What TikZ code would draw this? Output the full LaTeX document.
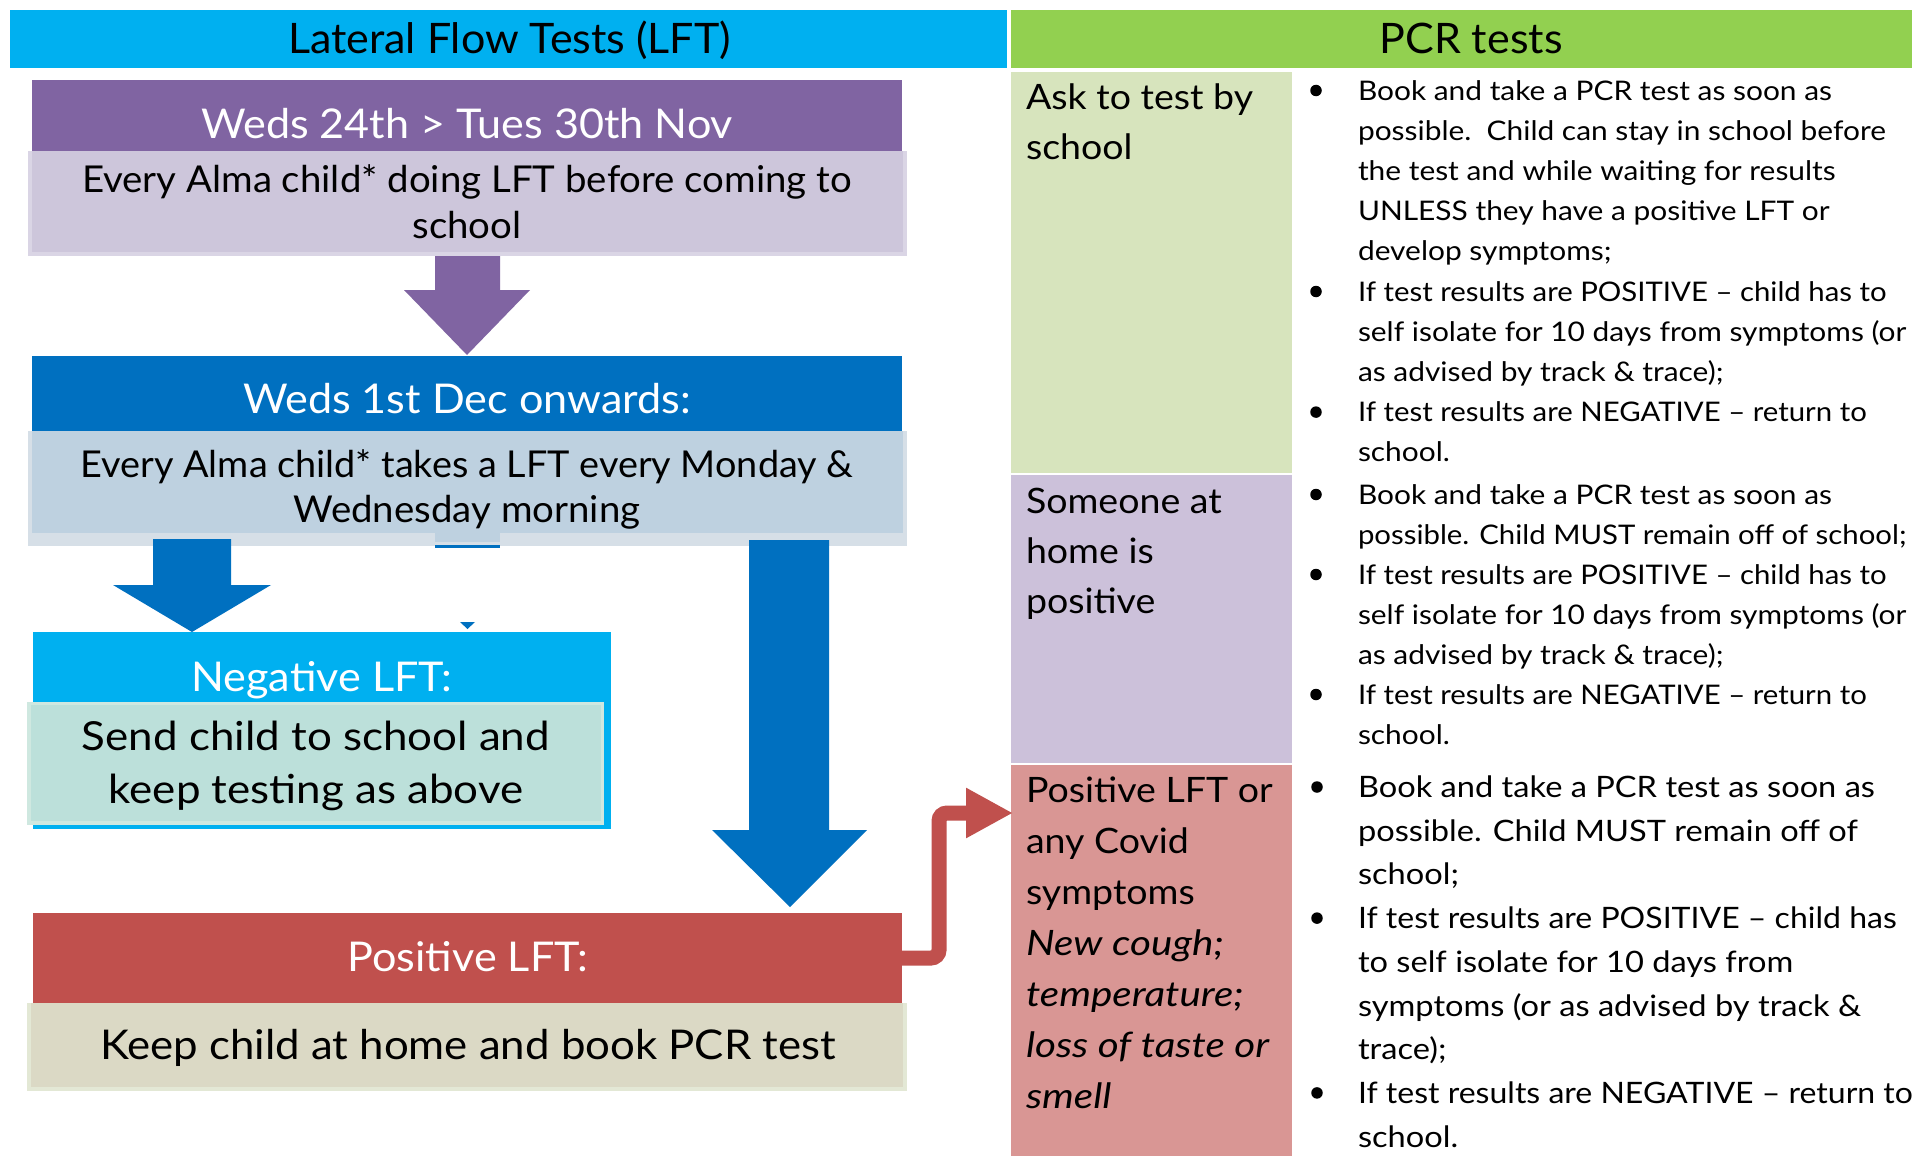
\documentclass[tikz,border=0pt]{standalone}
\usepackage{fontspec}
\setmainfont{Lato}
\usepackage{graphicx}
\usetikzlibrary{arrows.meta}
\definecolor{cCyan}{HTML}{00B0F0}
\definecolor{cGreen}{HTML}{92D050}
\definecolor{cPurple}{HTML}{8064A2}
\definecolor{cLav}{HTML}{CDC6DB}
\definecolor{cLavL}{HTML}{DAD5E5}
\definecolor{cBlue}{HTML}{0070C0}
\definecolor{cLBlue}{HTML}{BED1E0}
\definecolor{cLBlueL}{HTML}{D6DFE7}
\definecolor{cTeal}{HTML}{BCE0DA}
\definecolor{cTealL}{HTML}{CFE8E0}
\definecolor{cRed}{HTML}{C0504D}
\definecolor{cBeige}{HTML}{DBD9C5}
\definecolor{cBeigeL}{HTML}{E3E8D5}
\definecolor{cLGreen}{HTML}{D7E4BD}
\definecolor{cLLav}{HTML}{CCC1DA}
\definecolor{cPink}{HTML}{D99694}
\newlength\mtw
\newcommand\fitf[4]{\setbox0=\hbox{\normalfont\fontsize{#2}{#2}\selectfont #4}\mtw=\wd0\relax
  \pgfmathsetmacro\tmpk{#3/\mtw}\global\let#1\tmpk}
\newcommand\SX[2]{\scalebox{#1}[1]{#2}}
\newcommand\DS[1]{\scalebox{0.982}[1]{#1}}
\AtBeginDocument{%
\fitf{\kH}{42}{443}{Lateral Flow Tests (LFT)}%
\fitf{\kT}{41}{532}{Weds 24th > Tues 30th Nov}%
\fitf{\kB}{37}{770}{Every Alma child* doing LFT before coming to}%
\fitf{\kBb}{37}{773}{Every Alma child* takes a LFT every Monday \&}%
\fitf{\kN}{40}{468}{Send child to school and}%
\fitf{\kK}{41}{736}{Keep child at home and book PCR test}%
\fitf{\kL}{35}{227}{Ask to test by}%
\fitf{\kI}{35}{243}{\itshape loss of taste or}%
\fitf{\kP}{27}{474}{Book and take a PCR test as soon as}%
\fitf{\kQ}{29.5}{517}{Book and take a PCR test as soon as}%
}
\tikzset{
  boxn/.style={rectangle, inner sep=0pt, outer sep=0pt, anchor=north west, draw=none},
  txc/.style={inner sep=0pt, outer sep=0pt, anchor=base},
  txl/.style={inner sep=0pt, outer sep=0pt, anchor=base west},
  bdot/.style={circle, fill=black, inner sep=0pt, minimum size=11.5pt},
  fH/.style={font=\fontsize{42}{42}\selectfont},
  fT/.style={font=\fontsize{41}{41}\selectfont, text=white},
  fB/.style={font=\fontsize{37}{37}\selectfont},
  fN/.style={font=\fontsize{40}{40}\selectfont},
  fK/.style={font=\fontsize{41}{41}\selectfont},
  fL/.style={font=\fontsize{35}{35}\selectfont},
  fLi/.style={font=\fontsize{35}{35}\selectfont\itshape},
  fP/.style={font=\fontsize{27}{27}\selectfont},
  fQ/.style={font=\fontsize{29.5}{29.5}\selectfont},
  redconn/.style={line width=15pt, draw=cRed, rounded corners=8pt,
    -{Triangle[length=47pt 0 0, width=47pt 0 0]}}
}
\begin{document}
\begin{tikzpicture}[x=1pt,y=-1pt]
\path[use as bounding box] (0,0) rectangle (1912,1156);
\clip (0,0) rectangle (1912,1156);
\fill[white] (0,0) rectangle (1912,1156);

% column headers
\node[boxn, fill=cCyan, minimum width=997pt, minimum height=58pt] (hL) at (10,10) {};
\node[boxn, fill=cGreen, minimum width=910pt, minimum height=58pt] (hP) at (1011,10) {};
\node[txc, fH] (hLt) at (509.5,54) {\SX{\kH}{Lateral Flow Tests (LFT)}};
\node[txc, fH] (hPt) at (1471,54) {\SX{\kH}{PCR tests}};

% box 1
\node[boxn, fill=cLavL, minimum width=879pt, minimum height=105pt] (b1) at (28,151) {};
\fill[cLav] (32,151) rectangle (903,252);
\node[boxn, fill=cPurple, minimum width=870pt, minimum height=71pt] (h1) at (32,80) {};
\node[txc, fT] (h1t) at (467,138.5) {\SX{\kT}{Weds 24th > Tues 30th Nov}};
\node[txc, fB] (b1a) at (467,192.5) {\SX{\kB}{Every Alma child* doing LFT before coming to}};
\node[txc, fB] (b1b) at (467,238) {\SX{\kB}{school}};

% purple arrow
\fill[cPurple] (435,256) -- (500,256) -- (500,290) -- (530,290) -- (467,355) -- (404,290) -- (435,290) -- cycle;

% box 2
\node[boxn, fill=cLBlueL, minimum width=879pt, minimum height=115pt] (b2) at (28,431) {};
\fill[cLBlue] (32,431) rectangle (903,533);
\fill[cLBlue] (435,533) rectangle (500,542);
\fill[cBlue] (435,545) rectangle (500,548);
\node[boxn, fill=cBlue, minimum width=870pt, minimum height=75pt] (h2) at (32,356) {};
\node[txc, fT] (h2t) at (467,413.5) {\SX{\kT}{Weds 1st Dec onwards:}};
\node[txc, fB] (b2a) at (467,477) {\SX{\kBb}{Every Alma child* takes a LFT every Monday \&}};
\node[txc, fB] (b2b) at (467,522.5) {\SX{\kB}{Wednesday morning}};

% blue arrows
\fill[cBlue] (153,539) -- (231,539) -- (231,585) -- (271,585) -- (192,632) -- (113,585) -- (153,585) -- cycle;
\fill[cBlue] (749,540) -- (829,540) -- (829,830) -- (867,830) -- (790,907) -- (712,830) -- (749,830) -- cycle;
\fill[cBlue] (460,622) -- (475,622) -- (467.5,629) -- cycle;

% negative box
\node[boxn, fill=cCyan, minimum width=578pt, minimum height=197pt] (h3) at (33,632) {};
\node[boxn, fill=cTealL, minimum width=577pt, minimum height=123pt] (b3) at (27,702) {};
\fill[cTeal] (31,705) rectangle (601,821);
\node[txc, fT] (h3t) at (322,691) {\SX{\kT}{Negative LFT:}};
\node[txc, fN] (b3a) at (316,750) {\SX{\kN}{Send child to school and}};
\node[txc, fN] (b3b) at (316,803) {\SX{\kN}{keep testing as above}};

% positive box
\node[boxn, fill=cBeigeL, minimum width=880pt, minimum height=88pt] (b4) at (27,1003) {};
\fill[cBeige] (31,1003) rectangle (903,1087);
\node[boxn, fill=cRed, minimum width=869pt, minimum height=90pt] (h4) at (33,913) {};
\node[txc, fT] (h4t) at (468,971.5) {\SX{\kT}{Positive LFT:}};
\node[txc, fK] (b4a) at (468,1059.5) {\SX{\kK}{Keep child at home and book PCR test}};

% right label boxes
\node[boxn, fill=cLGreen, minimum width=281pt, minimum height=401pt] (lA) at (1011,72) {};
\node[boxn, fill=cLLav, minimum width=281pt, minimum height=288pt] (lB) at (1011,475) {};
\node[boxn, fill=cPink, minimum width=281pt, minimum height=400pt] (lC) at (1011,765) {};

% connector
\coordinate (pcrtip) at (1013,813);
\draw[redconn] (h4.east) -- ++(37,0) |- (pcrtip);

% labels
\foreach \y/\t [count=\i] in {110/{Ask to test by},159/{school},513/{Someone at},563/{home is},613/{positive},802/{Positive LFT or},853/{any Covid},904/{symptoms}}
  {\node[txl, fL] (lab\i) at (1026,\y) {\SX{\kL}{\t}};}
\foreach \y/\t [count=\i] in {955/{New cough;},1006/{temperature;},1057/{loss of taste or},1108/{smell}}
  {\node[txl, fLi] (labi\i) at (1026,\y) {\SX{\kI}{\t}};}

% bullets section 1
\foreach \y/\t [count=\i] in {
  100/{Book and take a PCR test as soon as},
  140.2/{possible.\ \ Child can stay in school before},
  180.4/{the test and while waiting for results},
  220.6/{UNLESS they have a positive LFT or},
  260.8/{develop symptoms;},
  301/{\DS{If test results are POSITIVE – child has to}},
  341.2/{self isolate for 10 days from symptoms (or},
  381.4/{as advised by track \& trace);},
  421.6/{\DS{If test results are NEGATIVE – return to}},
  461.8/{school.}}
  {\node[txl, fP] (sa\i) at (1358,\y) {\SX{\kP}{\t}};}
\foreach \y [count=\i] in {100,301,421.6}
  {\node[bdot] (da\i) at (1316,\y-9.5) {};}

% bullets section 2
\foreach \y/\t [count=\i] in {
  504/{Book and take a PCR test as soon as},
  544/{\DS{possible. Child MUST remain off of school;}},
  584/{\DS{If test results are POSITIVE – child has to}},
  624/{self isolate for 10 days from symptoms (or},
  664/{as advised by track \& trace);},
  704/{\DS{If test results are NEGATIVE – return to}},
  744/{school.}}
  {\node[txl, fP] (sb\i) at (1358,\y) {\SX{\kP}{\t}};}
\foreach \y [count=\i] in {504,584,704}
  {\node[bdot] (db\i) at (1316,\y-9.5) {};}

% bullets section 3
\foreach \y/\t [count=\i] in {
  797.5/{Book and take a PCR test as soon as},
  841.2/{possible. Child MUST remain off of},
  884.9/{school;},
  928.6/{\DS{If test results are POSITIVE – child has}},
  972.3/{to self isolate for 10 days from},
  1016/{symptoms (or as advised by track \&},
  1059.7/{trace);},
  1103.4/{\DS{If test results are NEGATIVE – return to}},
  1147.1/{school.}}
  {\node[txl, fQ] (sc\i) at (1358,\y) {\SX{\kQ}{\t}};}
\foreach \y [count=\i] in {797.5,928.6,1103.4}
  {\node[bdot] (dc\i) at (1317,\y-10.5) {};}
\end{tikzpicture}
\end{document}
